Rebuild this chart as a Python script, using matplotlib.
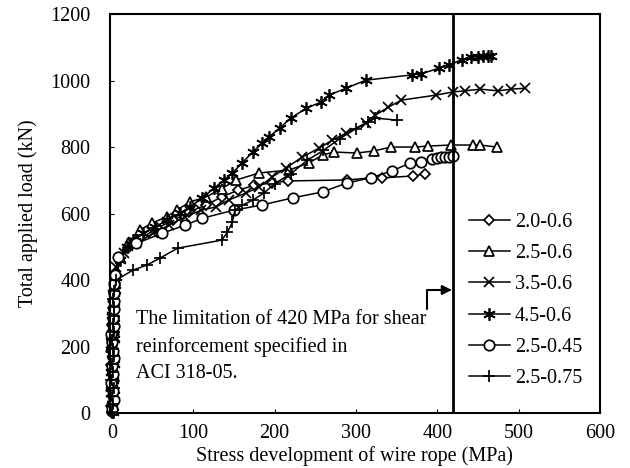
#!/usr/bin/env python3

import matplotlib
matplotlib.use('Agg')
import matplotlib.pyplot as plt

plt.rcParams['font.family'] = ['Liberation Serif', 'DejaVu Serif']

# Stress development of wire rope (MPa) vs total applied load (kN)
x_20_06 = [0, -1, 1, 0, 2, 1, -1, 1, 0, 2, 1, 0, 2, 1, 3, 2, 4, 8, 20, 35, 55, 75,
           95, 115, 135, 155, 175, 197, 216, 289, 318, 332, 370, 385]
y_20_06 = [0, 22, 48, 71, 95, 120, 143, 168, 192, 218, 241, 266, 290, 315, 340,
           365, 392, 465, 495, 525, 555, 580, 605, 625, 650, 670, 685, 692,
           698, 701, 707, 707, 713, 719]

x_25_06 = [1, 0, 2, -1, 1, 0, 2, 1, -1, 0, 2, 1, 3, 2, 1, 3, 4, 10, 20, 34, 49, 67,
           80, 96, 116, 135, 153, 181, 218, 242, 259, 273, 301, 322, 343, 373,
           389, 417, 444, 453, 473]
y_25_06 = [8, 33, 58, 80, 105, 128, 152, 178, 200, 226, 250, 274, 298, 322, 348,
           372, 398, 470, 510, 550, 571, 590, 611, 635, 650, 675, 701, 722, 731,
           752, 776, 785, 782, 788, 800, 800, 803, 806, 806, 806, 800]

x_35_06 = [0, 1, -1, 2, 0, 1, 3, 0, -1, 2, 1, 0, 3, 2, 1, 3, 5, 15, 30, 50, 70, 90,
           110, 128, 144, 165, 181, 197, 214, 234, 255, 271, 288, 312, 324, 340,
           356, 398, 420, 434, 453, 475, 491, 508]
y_35_06 = [15, 40, 62, 88, 112, 136, 160, 185, 210, 232, 256, 282, 305, 330, 356,
           380, 440, 480, 510, 540, 565, 590, 610, 620, 641, 662, 680, 710, 737,
           770, 797, 821, 842, 872, 896, 920, 941, 956, 966, 969, 974, 969, 974,
           977]

x_45_06 = [1, 0, 2, 0, 1, -1, 2, 1, 0, 2, 1, 3, 0, 2, 3, 4, 5, 10, 18, 26, 38, 53,
           67, 83, 96, 111, 126, 138, 148, 160, 173, 185, 193, 206, 220, 239, 257,
           267, 288, 312, 369, 380, 402, 414, 430, 442, 450, 456, 462, 466]
y_45_06 = [4, 28, 54, 76, 100, 124, 148, 172, 198, 222, 246, 270, 295, 320, 345,
           370, 410, 460, 499, 520, 541, 559, 580, 601, 620, 647, 677, 701, 722,
           752, 785, 812, 830, 857, 887, 917, 935, 956, 977, 1001, 1017, 1020,
           1037, 1047, 1062, 1070, 1072, 1074, 1075, 1075]

x_25_045 = [0, 2, 1, -1, 1, 0, 2, 1, 0, -1, 2, 1, 3, 2, 3, 2, 4, 7, 30, 62, 90,
            111, 150, 185, 222, 259, 289, 318, 344, 367, 380, 393, 400, 405, 410,
            415, 420]
y_25_045 = [12, 38, 66, 90, 116, 140, 164, 188, 214, 238, 262, 286, 312, 336,
            362, 388, 415, 469, 510, 541, 565, 586, 610, 626, 647, 665, 692, 707,
            728, 752, 755, 765, 768, 770, 770, 770, 772]

x_25_075 = [0, 1, 0, 2, -1, 1, 0, 2, 1, 0, 2, 1, 3, 2, 1, 3, 5, 26, 43, 59, 81,
            135, 142, 148, 151, 160, 173, 187, 200, 220, 240, 260, 280, 300, 315,
            324, 350]
y_25_075 = [2, 26, 50, 74, 98, 122, 146, 170, 194, 220, 244, 268, 292, 318, 342,
            366, 400, 430, 445, 466, 496, 520, 544, 574, 610, 625, 640, 662, 690,
            720, 760, 790, 825, 855, 875, 887, 881]

stress_limit = 420
note = "The limitation of 420 MPa for shear\nreinforcement specified in\nACI 318-05."

fig = plt.figure(figsize=(6.3, 4.68), dpi=100)
ax = fig.add_axes([0.1746, 0.1175, 0.7775, 0.8525])

common = dict(color='black', lw=1.1, mew=1.25, mfc='white', mec='black',
              clip_on=False)
ax.plot(x_20_06, y_20_06, marker='D', ms=5.5, label='2.0-0.6', **common)
ax.plot(x_25_06, y_25_06, marker='^', ms=7.5, label='2.5-0.6', **common)
ax.plot(x_35_06, y_35_06, marker='x', ms=7, label='3.5-0.6', **common)
ax.plot(x_45_06, y_45_06, marker=(6, 2, 0), ms=9, label='4.5-0.6', **common)
ax.plot(x_25_045, y_25_045, marker='o', ms=7.5, label='2.5-0.45', **common)
ax.plot(x_25_075, y_25_075, marker='+', ms=9, label='2.5-0.75', **common)

ax.axvline(stress_limit, color='black', lw=2.0)

ax.text(30, 309, note, fontsize=14.5, va='top', ha='left', linespacing=1.5)
ax.annotate('', xy=(stress_limit - 2, 370), xytext=(388, 314),
            arrowprops=dict(arrowstyle='-|>', color='black', lw=1.5,
                            mutation_scale=14,
                            connectionstyle='angle,angleA=90,angleB=0,rad=0',
                            shrinkA=0, shrinkB=0))

ax.set_xlim(-2.5, 600)
ax.set_ylim(0, 1200)
ax.set_xticks(range(0, 601, 100))
ax.set_yticks(range(0, 1201, 200))
ax.tick_params(direction='in', length=3, labelsize=14.5)
ax.tick_params(axis='x', pad=8)
ax.tick_params(axis='y', pad=14)
for s in ax.spines.values():
    s.set_linewidth(1.5)

ax.set_xlabel("Stress development of wire rope (MPa)", fontsize=14.5, labelpad=2)
ax.set_ylabel("Total applied load (kN)", fontsize=14.5, labelpad=9)

ax.legend(loc='upper left', bbox_to_anchor=(0.745, 0.545),
          bbox_transform=fig.transFigure, frameon=False, fontsize=14.5,
          numpoints=1, handlelength=2.0, handletextpad=0.25, labelspacing=0.6,
          borderpad=0, borderaxespad=0)

plt.savefig("out.png", dpi=100)
plt.close()
